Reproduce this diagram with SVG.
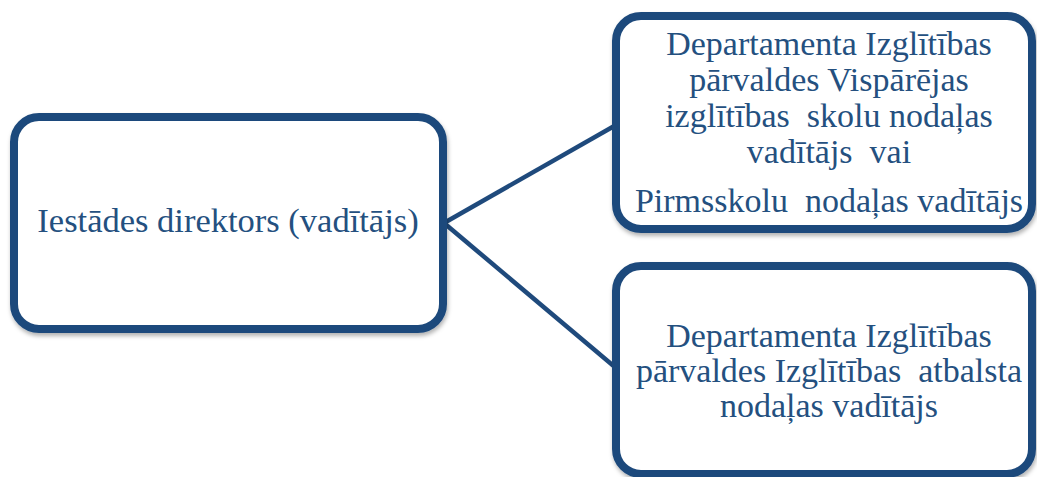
<svg xmlns="http://www.w3.org/2000/svg" width="1037" height="477" viewBox="0 0 1037 477">
<defs>
<filter id="sh" x="-5%" y="-5%" width="110%" height="115%">
<feDropShadow dx="1" dy="3" stdDeviation="2" flood-color="#000" flood-opacity="0.3"/>
</filter>
<style>
.box{fill:#fff;stroke:#1F4A7C;stroke-width:8;filter:url(#sh)}
.conn{stroke:#1F4A7C;stroke-width:4.5;fill:none}
text{font-family:"Liberation Serif","Times New Roman",serif;font-size:34px;fill:#24507F;text-anchor:middle;white-space:pre}
.big{font-size:34.5px}
</style>
</defs>
<rect width="1037" height="477" fill="#fff"/>
<g id="connectors">
<line class="conn" x1="444" y1="223" x2="616" y2="125"/>
<line class="conn" x1="444" y1="223" x2="616" y2="368"/>
</g>
<g id="node-director">
<rect class="box" x="14" y="117" width="429" height="212" rx="25"/>
<text class="big" x="228" y="232">Iestādes direktors (vadītājs)</text>
</g>
<g id="node-general">
<rect class="box" x="616" y="16" width="416" height="213" rx="25"/>
<text x="829" y="55">Departamenta Izglītības</text>
<text x="829" y="91">pārvaldes Vispārējas</text>
<text x="829" y="127">izglītības  skolu nodaļas</text>
<text x="829" y="163">vadītājs  vai</text>
<text x="829" y="212">Pirmsskolu  nodaļas vadītājs</text>
</g>
<g id="node-support">
<rect class="box" x="616" y="266" width="416" height="208" rx="25"/>
<text x="829" y="347">Departamenta Izglītības</text>
<text x="829" y="382">pārvaldes Izglītības  atbalsta</text>
<text x="829" y="417">nodaļas vadītājs</text>
</g>
</svg>
